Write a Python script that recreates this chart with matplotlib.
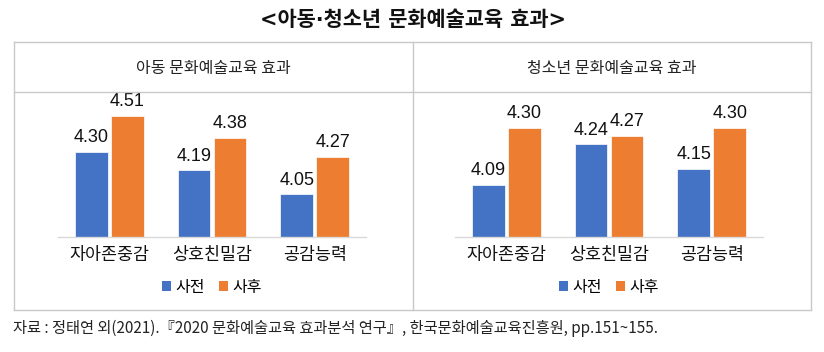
import matplotlib
matplotlib.use("Agg")
import matplotlib.pyplot as plt
from matplotlib.patches import Patch
from matplotlib.lines import Line2D
import numpy as np

plt.rcParams['font.family'] = ['Noto Sans CJK KR', 'DejaVu Sans']

title = "<아동·청소년 문화예술교육 효과>"
panel_titles = ["아동 문화예술교육 효과", "청소년 문화예술교육 효과"]
categories = ["자아존중감", "상호친밀감", "공감능력"]
series_names = ["사전", "사후"]
child_before = [4.30, 4.19, 4.05]
child_after = [4.51, 4.38, 4.27]
youth_before = [4.09, 4.24, 4.15]
youth_after = [4.30, 4.27, 4.30]
source = "자료 : 정태연 외(2021).『2020 문화예술교육 효과분석 연구』, 한국문화예술교육진흥원, pp.151~155."

BLUE = "#4472C4"
ORANGE = "#ED7D31"
GRID = "#C8C8C8"

W, H = 824, 352
fig = plt.figure(figsize=(W / 100, H / 100), dpi=100)
fig.patch.set_facecolor("white")

def fx(px):
    return px / W

def fy(py):
    return 1 - py / H

# title
fig.text(fx(413), fy(20), title, ha="center", va="center", fontsize=15,
         fontweight="bold", color="#111111", family=['DejaVu Sans', 'Noto Sans CJK KR'])

# table lines
tl, tr, tt, tm, tb, tmid = 14, 811, 42, 92, 310, 413
for (x0, y0, x1, y1) in [(tl, tt, tr, tt), (tl, tm, tr, tm), (tl, tb, tr, tb),
                         (tl, tt, tl, tb), (tr, tt, tr, tb), (tmid, tt, tmid, tb)]:
    fig.add_artist(Line2D([fx(x0), fx(x1)], [fy(y0), fy(y1)], color=GRID, lw=1.0,
                          transform=fig.transFigure))

# header texts
fig.text(fx(213), fy(68), panel_titles[0], ha="center", va="center", fontsize=11.5, color="#222222")
fig.text(fx(612), fy(68), panel_titles[1], ha="center", va="center", fontsize=11.5, color="#222222")

panels = [
    (58, (3.8, 4.6), child_before, child_after),
    (455, (3.9, 4.4), youth_before, youth_after),
]
ax_top, ax_bot, ax_w = 100.5, 236.7, 308
x = np.arange(len(categories))
bw = 0.32
off = 0.175
for left, ylim, before, after in panels:
    ax = fig.add_axes([fx(left), fy(ax_bot), ax_w / W, (ax_bot - ax_top) / H])
    b1 = ax.bar(x - off, before, bw, color=BLUE, edgecolor="white", linewidth=0.5, label=series_names[0])
    b2 = ax.bar(x + off, after, bw, color=ORANGE, edgecolor="white", linewidth=0.5, label=series_names[1])
    for bars in (b1, b2):
        ax.bar_label(bars, labels=[f"{v:.2f}" for v in bars.datavalues], padding=4,
                     fontsize=13, family="Liberation Sans", color="#111111")
    ax.set_xlim(-0.5, 2.5)
    ax.set_ylim(*ylim)
    ax.set_yticks([])
    ax.set_xticks(x)
    ax.set_xticklabels(categories, fontsize=12.5, color="#111111")
    ax.tick_params(axis="x", length=0, pad=7)
    for s in ["top", "right", "left"]:
        ax.spines[s].set_visible(False)
    ax.spines["bottom"].set_color("#D9D9D9")
    ax.spines["bottom"].set_linewidth(1.0)
    ax.patch.set_alpha(0)
    handles = [Patch(facecolor=BLUE, edgecolor="none"), Patch(facecolor=ORANGE, edgecolor="none")]
    ax.legend(handles, series_names, loc="center", bbox_to_anchor=(0.5, -0.37),
              ncol=2, frameon=False, fontsize=11.5, handlelength=0.55, handleheight=0.55,
              handletextpad=0.3, columnspacing=0.9, borderpad=0)

fig.text(fx(13), fy(328), source, ha="left", va="center", fontsize=11, color="#222222")

fig.savefig("out.png", dpi=100, facecolor="white")
